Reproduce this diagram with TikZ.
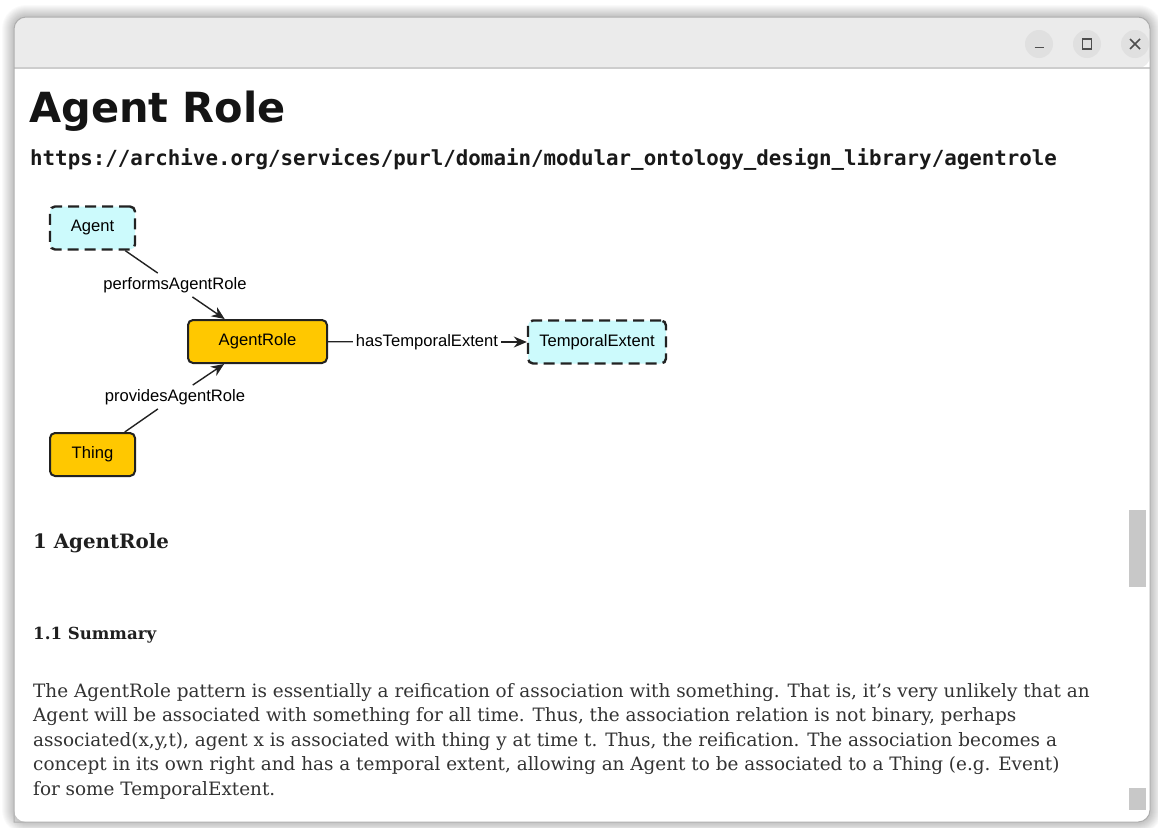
\documentclass[tikz,border=0pt]{standalone}
\usepackage{fontspec}
\setmainfont{DejaVu Serif}
\newfontfamily\headfont{DejaVu Sans}
\newfontfamily\diagfont{Liberation Sans}
\newfontfamily\codefont{DejaVu Sans Mono}
\usetikzlibrary{arrows.meta}

\definecolor{barbg}{HTML}{EBEBEB}
\definecolor{barline}{HTML}{CDCDCD}
\definecolor{btnbg}{HTML}{E0E0E0}
\definecolor{classfill}{HTML}{FFC800}
\definecolor{extfill}{HTML}{CCFAFC}
\definecolor{edgecol}{HTML}{222222}
\definecolor{bodytext}{HTML}{333333}
\definecolor{thumb}{HTML}{C8C8C8}

\tikzset{
  box/.style={draw=edgecol, rounded corners=5pt, minimum height=43pt,
    font=\diagfont\fontsize{16.6}{19}\selectfont, text=black},
  classbox/.style={box, fill=classfill, line width=2pt},
  extbox/.style={box, fill=extfill, line width=2.4pt, dash pattern=on 11pt off 6pt},
  rel/.style={font=\diagfont\fontsize{16.6}{19}\selectfont, inner sep=4pt, text=black},
  link/.style={draw=edgecol, line width=1.4pt},
  arr/.style={link, -{Stealth[length=13pt,width=11pt]}},
  bodyline/.style={anchor=base west, inner sep=0pt, text=bodytext,
    font=\fontsize{18.4}{24}\selectfont},
  winbtn/.style={circle, fill=btnbg, minimum size=28pt, inner sep=0pt},
}

\begin{document}
\begin{tikzpicture}[x=1pt, y=-1pt]
\useasboundingbox (0,0) rectangle (1158,827);
\fill[white] (0,0) rectangle (1158,827);

% soft window shadow
\foreach \i in {1,...,12}{
  \fill[black, opacity=0.018, rounded corners=12pt+\i pt]
    (14-\i,17-\i) rectangle (1150+\i,822+\i);
}

% window body
\fill[white, rounded corners=12pt] (14,17) rectangle (1150,822);
\fill[barbg, rounded corners=12pt] (14,68) -- (14,17) -- (1150,17) -- (1150,68) [sharp corners] -- cycle;
\draw[barline, line width=1.2pt] (14,68) -- (1150,68);
\draw[barline!85!black, line width=1pt, rounded corners=12pt]
  (14,822) -- (14,17) -- (1150,17) -- (1150,822) [sharp corners] -- cycle;

% title bar buttons
\node[winbtn] (minbtn) at (1039,44) {};
\node[winbtn] (maxbtn) at (1087,44) {};
\node[winbtn] (closebtn) at (1135,44) {};
\draw[edgecol!80, line width=1.5pt] ([xshift=-4.5pt,yshift=-3.5pt]minbtn.center) -- ([xshift=4.5pt,yshift=-3.5pt]minbtn.center);
\draw[edgecol!80, line width=1.4pt] ([xshift=-4.5pt,yshift=-5pt]maxbtn.center) rectangle ([xshift=4.5pt,yshift=5pt]maxbtn.center);
\draw[edgecol!80, line width=1.5pt] ([xshift=-5pt,yshift=-5pt]closebtn.center) -- ([xshift=5pt,yshift=5pt]closebtn.center)
  ([xshift=-5pt,yshift=5pt]closebtn.center) -- ([xshift=5pt,yshift=-5pt]closebtn.center);

% page heading and IRI
\node[anchor=base west, inner sep=0pt, font=\headfont\bfseries\fontsize{41.5}{48}\selectfont, text=black!92]
  (title) at (29,122) {Agent Role};
\node[anchor=base west, inner sep=0pt, font=\codefont\bfseries\fontsize{20.8}{24}\selectfont, text=black!90]
  (iri) at (30,165) {https://archive.org/services/purl/domain/modular\_ontology\_design\_library/agentrole};

% pattern diagram
\node[extbox, minimum width=85pt] (Agent) at (92.5,228) {Agent};
\node[classbox, minimum width=139pt] (AgentRole) at (257.5,341.5) {AgentRole};
\node[extbox, minimum width=138pt] (TemporalExtent) at (597,342) {TemporalExtent};
\node[classbox, minimum width=85pt] (Thing) at (92.5,454.5) {Thing};

\node[rel] (performs) at (175,285) {performsAgentRole};
\node[rel] (provides) at (175,397) {providesAgentRole};
\node[rel, inner xsep=3pt] (hasTE) at (427,342) {hasTemporalExtent};

\draw[link] (Agent) -- (performs);
\draw[arr] (performs) -- (AgentRole);
\draw[link] (Thing) -- (provides);
\draw[arr] (provides) -- (AgentRole);
\draw[link] (AgentRole) -- (hasTE);
\draw[arr] (hasTE) -- (TemporalExtent);

% section headings
\node[anchor=base west, inner sep=0pt, font=\bfseries\fontsize{19.8}{23}\selectfont, text=black!88]
  (sec1) at (33,548) {1 AgentRole};
\node[anchor=base west, inner sep=0pt, font=\bfseries\fontsize{16.6}{20}\selectfont, text=black!88]
  (sec11) at (33,639) {1.1 Summary};

% summary paragraph
\node[bodyline] (l1) at (33,697) {The AgentRole pattern is essentially a reification of association with something. That is, it’s very unlikely that an};
\node[bodyline] (l2) at (33,721.5) {Agent will be associated with something for all time. Thus, the association relation is not binary, perhaps};
\node[bodyline] (l3) at (33,746) {associated(x,y,t), agent x is associated with thing y at time t. Thus, the reification. The association becomes a};
\node[bodyline] (l4) at (33,770.5) {concept in its own right and has a temporal extent, allowing an Agent to be associated to a Thing (e.g. Event)};
\node[bodyline] (l5) at (33,795) {for some TemporalExtent.};

% scrollbar thumbs
\fill[thumb] (1129,510) rectangle (1146,587);
\fill[thumb] (1129,788) rectangle (1146,810);
\end{tikzpicture}
\end{document}
